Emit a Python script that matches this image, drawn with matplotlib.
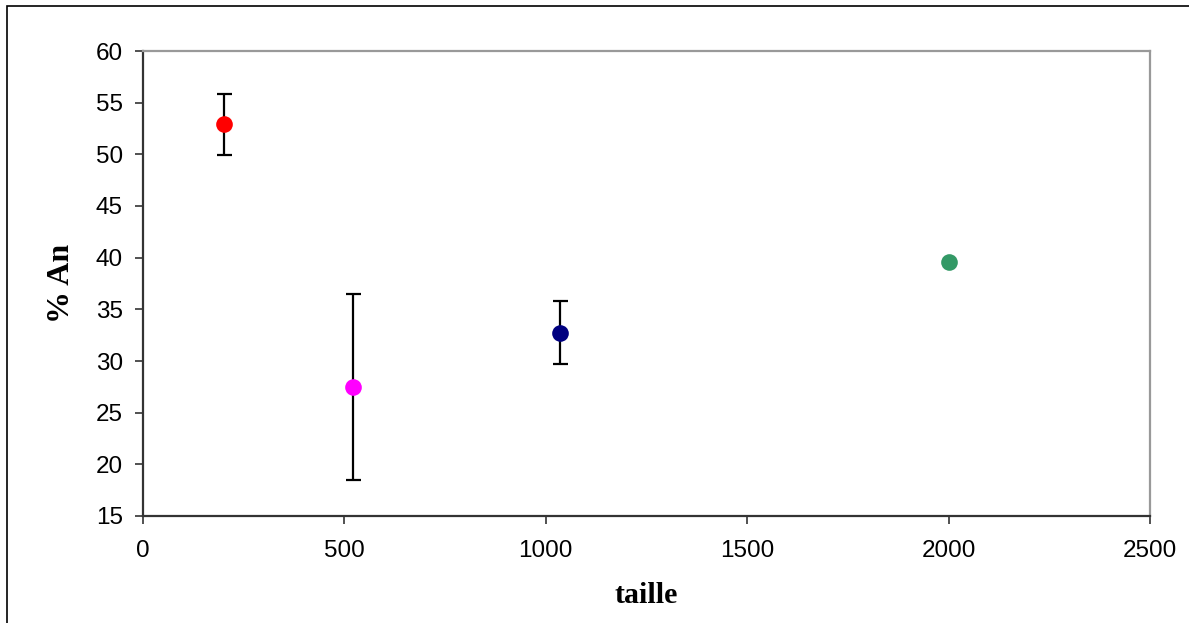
import matplotlib
matplotlib.use("Agg")
import matplotlib.pyplot as plt
from matplotlib.patches import Rectangle

taille = [200, 522, 1035, 2000]
pct_an = [52.9, 27.45, 32.75, 39.6]
err = [2.95, 9.0, 3.05, 0.1]
colors = ["#FF0000", "#FF00FF", "#000080", "#339966"]

xticks = [0, 500, 1000, 1500, 2000, 2500]
yticks = [15, 20, 25, 30, 35, 40, 45, 50, 55, 60]

fig = plt.figure(figsize=(11.89, 6.23), dpi=100)
fig.patch.set_facecolor("white")
fig.patches.append(Rectangle((7/1189, -0.5), 1.5, 0.5 + (1 - 6/623),
                             transform=fig.transFigure, fill=False,
                             edgecolor="black", linewidth=1.2, zorder=0))

ax = fig.add_axes([143/1189, 1 - 516/623, (1150-143)/1189, (516-51)/623])

for x, y, e, c in zip(taille, pct_an, err, colors):
    ax.errorbar([x], [y], yerr=[e], fmt="none", ecolor="black",
                elinewidth=1.6, capsize=5.4, capthick=1.6, zorder=2)
    ax.plot([x], [y], "o", color=c, markersize=12, zorder=3,
            markeredgewidth=0)

ax.set_xlim(0, 2500)
ax.set_ylim(15, 60)
ax.set_xticks(xticks)
ax.set_yticks(yticks)

tick_font = {"family": "Liberation Sans", "size": 17.5}
ax.set_xticklabels([str(t) for t in xticks], fontdict=tick_font)
ax.set_yticklabels([str(t) for t in yticks], fontdict=tick_font)
ax.tick_params(axis="both", direction="out", length=6, width=1.2,
               color="#333333")
ax.tick_params(axis="y", pad=8.5)
ax.tick_params(axis="x", pad=11)

for s in ["left", "bottom"]:
    ax.spines[s].set_color("#333333")
    ax.spines[s].set_linewidth(1.6)
for s in ["top", "right"]:
    ax.spines[s].set_color("#999999")
    ax.spines[s].set_linewidth(1.6)

label_font = {"family": "Liberation Serif", "size": 21.5, "weight": "bold"}
ax.set_xlabel("taille", fontdict=label_font, labelpad=15)
ylabel_font = dict(label_font, size=23)
ax.set_ylabel("% An", fontdict=ylabel_font, labelpad=14)

fig.savefig("out.png", dpi=100, facecolor="white")
